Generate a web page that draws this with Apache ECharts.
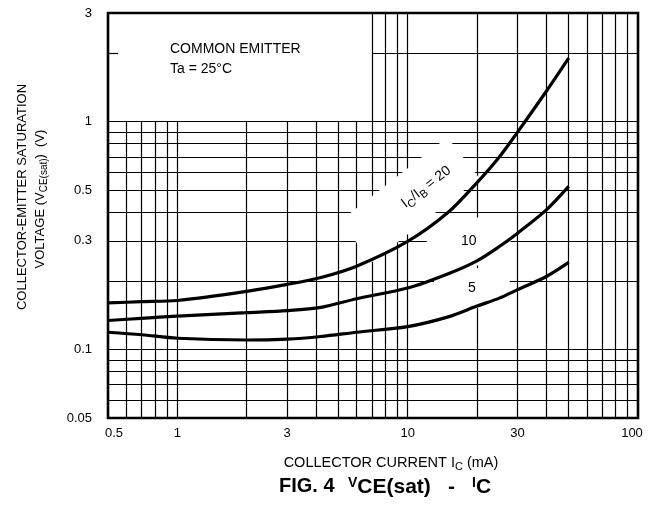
<!DOCTYPE html>
<html><head><meta charset="utf-8">
<script src="https://cdn.jsdelivr.net/npm/echarts@6/dist/echarts.min.js"></script>
<style>html,body{margin:0;padding:0;background:#fff}#c{width:654px;height:509px}</style>
</head><body><div id="c"></div>
<script>
// ---- data (Ic in mA, VCE(sat) in V) ----
const currents = [0.5, 0.7, 1, 2, 3, 4.2, 6, 10, 15, 20, 25, 30, 40, 50];
const vce20 = [0.160, 0.162, 0.164, 0.180, 0.193, 0.207, 0.232, 0.298, 0.40, 0.54, 0.70, 0.90, 1.36, 1.90];
const vce10 = [0.134, 0.137, 0.140, 0.145, 0.148, 0.153, 0.167, 0.186, 0.215, 0.245, 0.283, 0.324, 0.41, 0.52];
const vce5  = [0.119, 0.116, 0.112, 0.110, 0.111, 0.114, 0.119, 0.126, 0.139, 0.155, 0.168, 0.183, 0.209, 0.241];
const seriesNames = ['20', '10', '5'];
const xTickLabels = [0.5, 1, 3, 10, 30, 100];
const yTickLabels = [0.05, 0.1, 0.3, 0.5, 1, 3];
const xRange = [0.5, 100];
const yRange = [0.05, 3];
// graph-paper grid
const xGridLow = [0.6, 0.7, 0.8, 0.9, 1, 2, 3, 4, 5, 6];          // up to 1 V
const xGridFull = [7, 8, 9, 10, 20, 30, 40, 50, 60, 70, 80, 90]; // up to 3 V
const yGridFull = [0.06, 0.07, 0.08, 0.09, 0.1, 0.2, 0.3, 0.4, 0.5, 0.6, 0.7, 0.8, 0.9, 1];
const yGridRight = [2];
const yMinorTick = [2];

const FF = '"Liberation Sans", Arial, Helvetica, sans-serif';
const zip = (xs, ys) => xs.map((x, i) => [x, ys[i]]);

const gridLines = [];
xGridLow.forEach(x => gridLines.push([{coord: [x, yRange[0]]}, {coord: [x, 1]}]));
xGridFull.forEach(x => gridLines.push([{coord: [x, yRange[0]]}, {coord: [x, yRange[1]]}]));
yGridFull.forEach(y => gridLines.push([{coord: [xRange[0], y]}, {coord: [xRange[1], y]}]));
yGridRight.forEach(y => gridLines.push([{coord: [xGridFull[0], y]}, {coord: [xRange[1], y]}]));

const labStyle = {fontSize: 14, fontFamily: FF, color: '#000'};
const curveLabels = [
  {coord: [10.2, 0.454], text: '{n|I}{s|C}{n|/I}{s|B}{n| = 20}', rotate: 38, padding: [16, 18, 16, 60]},
  {coord: [18.4, 0.298], text: '{n|10}', rotate: 0, padding: [14, 34]},
  {coord: [19, 0.186], text: '{n|5}', rotate: 0, padding: [10, 34]}
];

const curveSeries = [vce20, vce10, vce5].map((v, i) => ({
  name: seriesNames[i], type: 'line', data: zip(currents, v), z: 10,
  smooth: 0.3, showSymbol: false, symbol: 'none',
  lineStyle: {color: '#000', width: 3.2}, silent: true
}));

const rSmall = {fontSize: 14, fontWeight: 'bold', fontFamily: FF, fill: '#000', color: '#000', verticalAlign: 'top', lineHeight: 14};
const rBig = {fontSize: 21, fontWeight: 'bold', fontFamily: FF, fill: '#000', color: '#000', verticalAlign: 'bottom', lineHeight: 21};

const option = {
  animation: false,
  backgroundColor: '#fff',
  grid: {left: 108, top: 13, right: 16, bottom: 91, show: true, borderColor: '#000', borderWidth: 2.6, backgroundColor: 'transparent'},
  xAxis: {
    type: 'log', logBase: 10, min: xRange[0], max: xRange[1],
    axisLine: {show: false}, axisTick: {show: false}, splitLine: {show: false}, minorSplitLine: {show: false},
    axisLabel: {
      customValues: xTickLabels, margin: 9, fontSize: 13, fontFamily: FF, color: '#000',
      formatter: v => Math.abs(v - 0.5) < 1e-6 ? '{l|0.5}' : (Math.abs(v - 100) < 1e-6 ? '{r|100}' : '{m|' + (+v.toPrecision(3)) + '}'),
      rich: {
        l: {fontSize: 13, fontFamily: FF, color: '#000', padding: [0, 0, 0, 12]},
        r: {fontSize: 13, fontFamily: FF, color: '#000', padding: [0, 12, 0, 0]},
        m: {fontSize: 13, fontFamily: FF, color: '#000'}
      }
    }
  },
  yAxis: {
    type: 'log', logBase: 10, min: yRange[0], max: yRange[1],
    axisLine: {show: false}, splitLine: {show: false},
    axisTick: {show: true, inside: true, length: 10, customValues: yMinorTick, lineStyle: {color: '#000', width: 1.2}},
    axisLabel: {customValues: yTickLabels, margin: 16, fontSize: 13, fontFamily: FF, color: '#000',
      formatter: v => String(+v.toPrecision(3))}
  },
  series: [
    {
      type: 'line', data: [], silent: true, symbol: 'none',
      markLine: {
        z: 1, silent: true, symbol: ['none', 'none'], animation: false,
        label: {show: false},
        lineStyle: {color: '#000', width: 1.2, type: 'solid'},
        emphasis: {disabled: true},
        data: gridLines
      },
      markPoint: {
        z: 3, silent: true, animation: false, symbol: 'rect', symbolSize: 1,
        itemStyle: {color: 'rgba(0,0,0,0)'},
        data: curveLabels.map(l => ({
          coord: l.coord,
          label: {
            show: true, position: 'inside', formatter: l.text, rotate: l.rotate,
            backgroundColor: '#fff', padding: l.padding,
            rich: {
              n: Object.assign({verticalAlign: 'middle', lineHeight: 20}, labStyle),
              s: {fontSize: 11, fontFamily: FF, color: '#000', verticalAlign: 'bottom', lineHeight: 20}
            }
          }
        }))
      }
    },
    ...curveSeries
  ],
  graphic: [
    {type: 'text', left: 170, top: 42, silent: true, style: {text: 'COMMON EMITTER', fontSize: 14, fontFamily: FF, fill: '#000'}},
    {type: 'text', left: 170, top: 62, silent: true, style: {text: 'Ta = 25°C', fontSize: 14, fontFamily: FF, fill: '#000'}},
    {type: 'text', x: 22, y: 197, rotation: Math.PI / 2, silent: true,
      style: {text: 'COLLECTOR-EMITTER SATURATION', fontSize: 13, fontFamily: FF, fill: '#000', align: 'center', verticalAlign: 'middle', textAlign: 'center', textVerticalAlign: 'middle'}},
    {type: 'text', x: 40, y: 199, rotation: Math.PI / 2, silent: true,
      style: {text: '{n|VOLTAGE (V}{s|CE(sat)}{n|)  (V)}', align: 'center', verticalAlign: 'middle', textAlign: 'center', textVerticalAlign: 'middle',
        rich: {n: {fontSize: 13, fontFamily: FF, fill: '#000', color: '#000', verticalAlign: 'middle', lineHeight: 18},
               s: {fontSize: 10, fontFamily: FF, fill: '#000', color: '#000', verticalAlign: 'bottom', lineHeight: 18}}}},
    {type: 'text', x: 391, y: 463, silent: true,
      style: {text: '{n|COLLECTOR CURRENT I}{s|C}{n| (mA)}', align: 'center', verticalAlign: 'middle', textAlign: 'center', textVerticalAlign: 'middle',
        rich: {n: {fontSize: 14.5, fontFamily: FF, fill: '#000', color: '#000', verticalAlign: 'middle', lineHeight: 18},
               s: {fontSize: 11, fontFamily: FF, fill: '#000', color: '#000', verticalAlign: 'bottom', lineHeight: 18}}}},
    {type: 'text', x: 279, y: 486, silent: true,
      style: {text: 'FIG. 4', fontSize: 20, fontWeight: 'bold', fontFamily: FF, fill: '#000', align: 'left', verticalAlign: 'middle', textAlign: 'left', textVerticalAlign: 'middle'}},
    {type: 'text', x: 348, y: 487, silent: true,
      style: {text: '{s|V}{b|CE(sat)}', align: 'left', verticalAlign: 'middle', textAlign: 'left', textVerticalAlign: 'middle', rich: {s: rSmall, b: rBig}}},
    {type: 'text', x: 448, y: 487, silent: true,
      style: {text: '{b|-}', align: 'left', verticalAlign: 'middle', textAlign: 'left', textVerticalAlign: 'middle', rich: {b: rBig}}},
    {type: 'text', x: 472, y: 487, silent: true,
      style: {text: '{s|I}{b|C}', align: 'left', verticalAlign: 'middle', textAlign: 'left', textVerticalAlign: 'middle', rich: {s: rSmall, b: rBig}}}
  ]
};
const chart = echarts.init(document.getElementById('c'), null, {renderer: 'canvas'});
chart.setOption(option);
</script></body></html>
